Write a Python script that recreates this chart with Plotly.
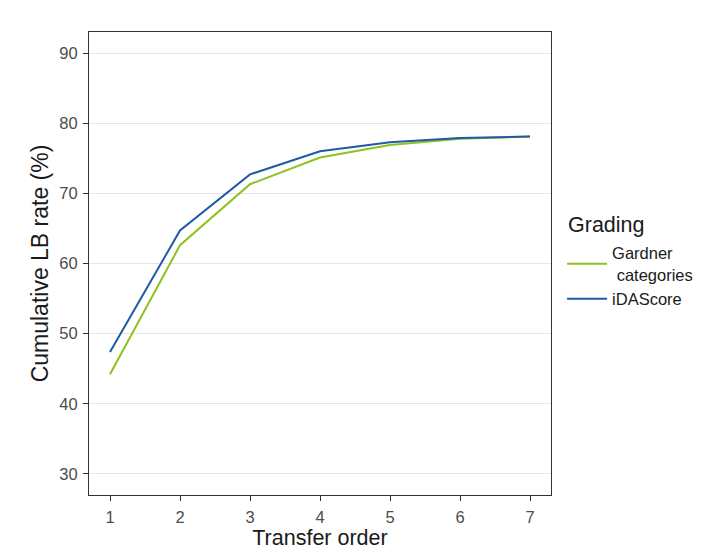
import plotly.graph_objects as go

transfer_order = [1, 2, 3, 4, 5, 6, 7]
gardner = [44.2, 62.6, 71.3, 75.1, 76.9, 77.8, 78.1]
idascore = [47.4, 64.7, 72.7, 76.0, 77.3, 77.9, 78.1]

GREEN = "#8dc21f"
BLUE = "#1f5aa6"
FONT = "Liberation Sans, Arial, sans-serif"

fig = go.Figure()
fig.add_trace(go.Scatter(x=transfer_order, y=gardner, mode="lines",
                         name="Gardner<br> categories",
                         line=dict(color=GREEN, width=2)))
fig.add_trace(go.Scatter(x=transfer_order, y=idascore, mode="lines",
                         name="iDAScore",
                         line=dict(color=BLUE, width=2)))

axis_common = dict(showline=True, linecolor="#333333", linewidth=1, mirror=True,
                   ticks="outside", ticklen=5, tickcolor="#333333",
                   tickfont=dict(family=FONT, size=16.5, color="#4d4d4d"),
                   ticklabelstandoff=2, zeroline=False, automargin=False)
fig.update_xaxes(range=[0.7, 7.3], tickvals=transfer_order, showgrid=False,
                 title=dict(text="Transfer order", font=dict(family=FONT, size=21.5, color="#1a1a1a"),
                            standoff=2),
                 **axis_common)
fig.update_yaxes(range=[27, 93], tickvals=[30, 40, 50, 60, 70, 80, 90],
                 showgrid=True, gridcolor="#e6e6e6", gridwidth=1.2,
                 title=dict(text="Cumulative LB rate (%)", font=dict(family=FONT, size=23, color="#1a1a1a"),
                            standoff=4),
                 **axis_common)

# legend title drawn separately so the gap below it matches
fig.add_annotation(text="Grading", x=1.032, y=0.583, xref="paper", yref="paper",
                   xanchor="left", yanchor="middle", showarrow=False,
                   font=dict(family=FONT, size=21.5, color="#1a1a1a"))

fig.update_layout(
    width=721, height=559,
    paper_bgcolor="white", plot_bgcolor="white",
    margin=dict(l=81, r=178, t=24, b=72),
    font=dict(family=FONT),
    legend=dict(font=dict(family=FONT, size=16.5, color="#1a1a1a"),
                x=1.024, xanchor="left", y=0.56, yanchor="top",
                bgcolor="rgba(0,0,0,0)", itemwidth=40, tracegroupgap=4),
)

fig.write_html("out.html")
